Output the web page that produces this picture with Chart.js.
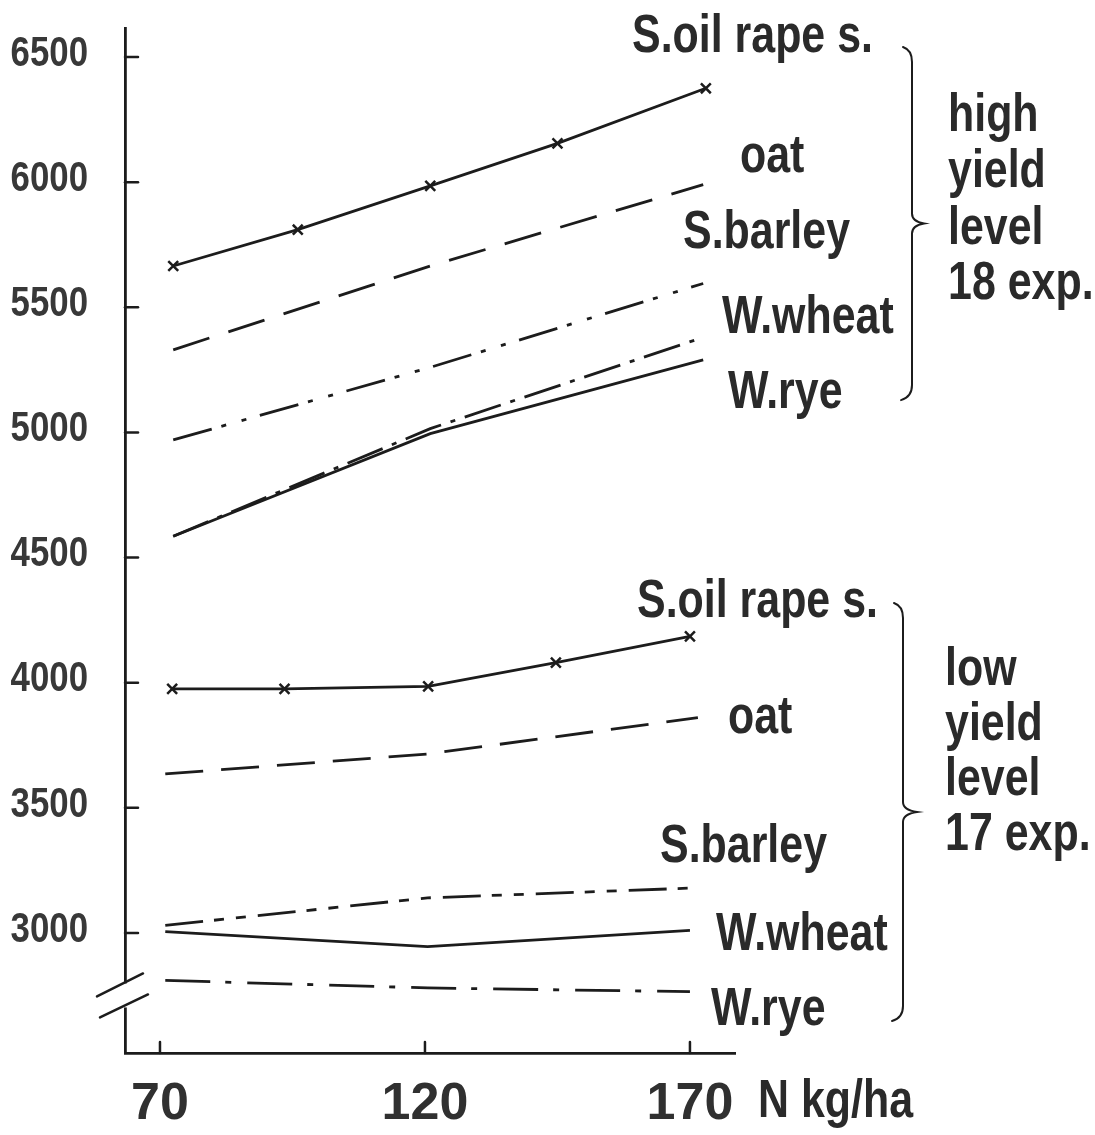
<!DOCTYPE html>
<html>
<head>
<meta charset="utf-8">
<script src="https://cdn.jsdelivr.net/npm/chart.js@4.4.0/dist/chart.umd.min.js"></script>
<style>
  html, body { margin: 0; padding: 0; background: #fff; }
  #wrap { width: 1095px; height: 1135px; }
</style>
</head>
<body>
<div id="wrap"><canvas id="myChart" width="1095" height="1135"></canvas></div>
<script>
// N rates (kg/ha) as drawn, and yields for each crop
const nHighRape = [72.5, 96, 121, 145, 173];
const highRape = [5665, 5810, 5985, 6155, 6375];
const nHigh = [72.5, 121, 172.5];
const highOat = [5330, 5665, 5990];
const highBarley = [4970, 5260, 5595];
const highWheat = [4585, 5015, 5380];
const highRye = [4585, 4995, 5290];

const nLowRape = [72.3, 93.5, 120.6, 144.7, 170];
const lowRape = [3975, 3975, 3985, 4080, 4185];
const nLow = [71, 120.5, 171.5];
const nLowShort = [71, 120.5, 170];
const lowOat = [3635, 3715, 3860];
const lowBarley = [3030, 3140, 3180];
const lowWheat = [3005, 2945, 3010];
const lowRye = [2810, 2780, 2765];

const xTicks = [70, 120, 170];
const yTicks = [3000, 3500, 4000, 4500, 5000, 5500, 6000, 6500];

const sans = '"Liberation Sans", Arial, sans-serif';
const ink = "#1c1c1c";
const textInk = "#2a2a2a";

function pts(xs, ys) {
  return xs.map((x, i) => ({ x: x, y: ys[i] }));
}

function line(label, xs, ys, dash, marker) {
  return {
    label: label,
    data: pts(xs, ys),
    borderColor: ink,
    borderWidth: 2.8,
    borderDash: dash,
    pointStyle: "crossRot",
    pointRadius: marker ? 7 : 0,
    pointBorderWidth: 2.5,
    pointBorderColor: ink,
    tension: 0,
    fill: false,
  };
}

// text and braces placed beside the lines
const notes = [
  { t: "S.oil rape s.", x: 632, y: 52 },
  { t: "oat", x: 740, y: 172 },
  { t: "S.barley", x: 683, y: 248 },
  { t: "W.wheat", x: 722, y: 333 },
  { t: "W.rye", x: 728, y: 408 },
  { t: "high", x: 948, y: 131 },
  { t: "yield", x: 948, y: 187 },
  { t: "level", x: 948, y: 244 },
  { t: "18 exp.", x: 948, y: 299 },
  { t: "S.oil rape s.", x: 637, y: 617 },
  { t: "oat", x: 728, y: 733 },
  { t: "S.barley", x: 660, y: 862 },
  { t: "W.wheat", x: 716, y: 950 },
  { t: "W.rye", x: 711, y: 1025 },
  { t: "low", x: 945, y: 685 },
  { t: "yield", x: 945, y: 740 },
  { t: "level", x: 945, y: 795 },
  { t: "17 exp.", x: 945, y: 850 },
  { t: "N kg/ha", x: 758, y: 1117 },
];
const braces = [
  { x: 912, top: 6528, bottom: 5141, tip: 12 },
  { x: 903, top: 4306, bottom: 2660, tip: 14 },
];
const axisBreak = 2750;

function narrowText(ctx, text, x, y, size, align) {
  ctx.save();
  ctx.translate(x, y);
  ctx.scale(0.81, 1);
  ctx.font = "bold " + size + "px " + sans;
  ctx.textAlign = align;
  ctx.fillText(text, 0, 0);
  ctx.restore();
}

function drawBrace(ctx, x, y0, y1, tip) {
  const ym = (y0 + y1) / 2;
  ctx.beginPath();
  ctx.moveTo(x - 9, y0 - 3);
  ctx.quadraticCurveTo(x, y0, x, y0 + 12);
  ctx.lineTo(x, ym - 10);
  ctx.quadraticCurveTo(x, ym - 2, x + tip, ym);
  ctx.quadraticCurveTo(x, ym + 2, x, ym + 10);
  ctx.lineTo(x, y1 - 12);
  ctx.quadraticCurveTo(x, y1, x - 11, y1 + 3);
  ctx.stroke();
}

const extras = {
  id: "extras",
  afterDraw(chart) {
    const ctx = chart.ctx;
    const xs = chart.scales.x;
    const ys = chart.scales.y;
    const area = chart.chartArea;
    ctx.save();
    ctx.strokeStyle = ink;
    ctx.lineWidth = 2.5;
    ctx.lineCap = "round";

    // inward ticks
    yTicks.forEach((v) => {
      const y = ys.getPixelForValue(v);
      ctx.beginPath();
      ctx.moveTo(area.left, y);
      ctx.lineTo(area.left + 13, y);
      ctx.stroke();
    });
    xTicks.forEach((v) => {
      const x = xs.getPixelForValue(v);
      ctx.beginPath();
      ctx.moveTo(x, area.bottom);
      ctx.lineTo(x, area.bottom - 11);
      ctx.stroke();
    });

    // axis break
    const yb = ys.getPixelForValue(axisBreak);
    ctx.fillStyle = "#fff";
    ctx.fillRect(area.left - 4, yb - 12, 8, 24);
    ctx.beginPath();
    ctx.moveTo(area.left - 28, yb + 1);
    ctx.lineTo(area.left + 18, yb - 22);
    ctx.moveTo(area.left - 25, yb + 22);
    ctx.lineTo(area.left + 23, yb - 1);
    ctx.stroke();

    // braces
    ctx.lineWidth = 2;
    braces.forEach((b) => {
      drawBrace(ctx, b.x, ys.getPixelForValue(b.top), ys.getPixelForValue(b.bottom), b.tip);
    });

    // y tick labels, condensed
    ctx.fillStyle = "#383838";
    ctx.textBaseline = "middle";
    yTicks.forEach((v) => {
      narrowText(ctx, String(v), area.left - 37, ys.getPixelForValue(v) - 3, 43, "right");
    });

    // labels
    ctx.fillStyle = textInk;
    ctx.textBaseline = "alphabetic";
    notes.forEach((n) => narrowText(ctx, n.t, n.x, n.y, 53, "left"));
    ctx.restore();
  },
};

new Chart("myChart", {
  type: "line",
  data: {
    datasets: [
      line("S.oil rape s. high", nHighRape, highRape, [], true),
      line("oat high", nHigh, highOat, [38, 20], false),
      line("S.barley high", nHigh, highBarley, [40, 10, 5, 16, 5, 14], false),
      line("W.wheat high", nHigh, highWheat, [38, 10, 5, 10], false),
      line("W.rye high", nHigh, highRye, [], false),
      line("S.oil rape s. low", nLowRape, lowRape, [], true),
      line("oat low", nLow, lowOat, [38, 18], false),
      line("S.barley low", nLow, lowBarley, [38, 11, 10, 12, 10, 12], false),
      line("W.wheat low", nLowShort, lowWheat, [], false),
      line("W.rye low", nLowShort, lowRye, [45, 15, 6, 16], false),
    ],
  },
  options: {
    responsive: false,
    animation: false,
    layout: { autoPadding: false, padding: { top: 28, right: 360, left: 0, bottom: 0 } },
    plugins: { legend: { display: false }, tooltip: { enabled: false } },
    scales: {
      x: {
        type: "linear",
        min: 63.4,
        max: 178.5,
        afterBuildTicks: (s) => { s.ticks = xTicks.map((v) => ({ value: v })); },
        afterFit: (s) => { s.height = 82; },
        grid: { display: false, drawTicks: false },
        border: { color: ink, width: 2.8 },
        ticks: {
          autoSkip: false,
          maxRotation: 0,
          padding: 20,
          color: "#303030",
          font: { family: sans, size: 52, weight: "bold" },
        },
      },
      y: {
        min: 2520,
        max: 6616,
        afterBuildTicks: (s) => { s.ticks = yTicks.map((v) => ({ value: v })); },
        afterFit: (s) => { s.width = 125; },
        grid: { display: false, drawTicks: false },
        border: { color: ink, width: 2.8 },
        ticks: { display: false },
      },
    },
  },
  plugins: [extras],
});
</script>
</body>
</html>
